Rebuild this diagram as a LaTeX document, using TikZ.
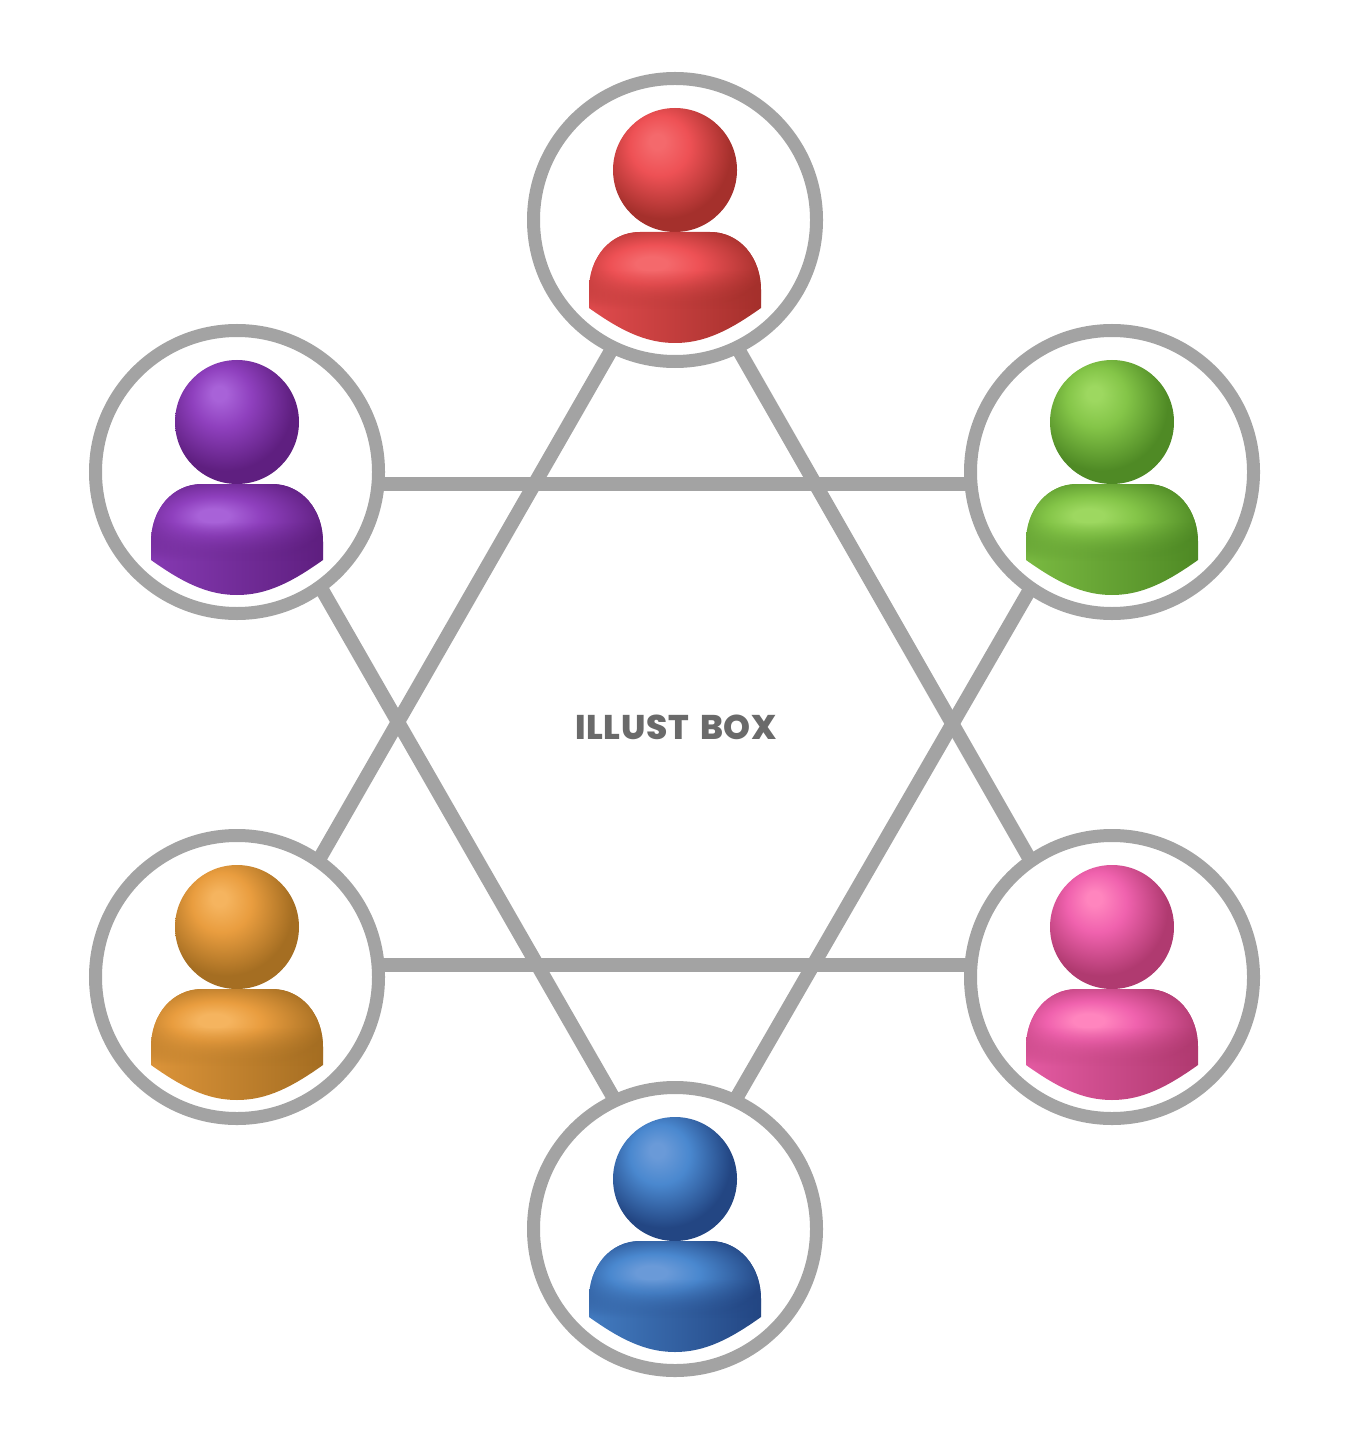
\documentclass[tikz,border=0pt]{standalone}
\usepackage{fontspec}
\usetikzlibrary{fadings}
\newfontfamily\boxfont[LetterSpace=2]{Poppins ExtraBold}

\definecolor{linkgray}{HTML}{A3A3A3}
\definecolor{labelgray}{HTML}{6A6A6A}
\definecolor{redhi}{HTML}{F4696C}
\definecolor{redbase}{HTML}{EE5155}
\definecolor{reddark}{HTML}{A5302C}
\definecolor{purplehi}{HTML}{A862D8}
\definecolor{purplebase}{HTML}{8F40BE}
\definecolor{purpledark}{HTML}{5F1F80}
\definecolor{greenhi}{HTML}{9DD860}
\definecolor{greenbase}{HTML}{84C548}
\definecolor{greendark}{HTML}{4F8A25}
\definecolor{orangehi}{HTML}{F5B45F}
\definecolor{orangebase}{HTML}{E99D3F}
\definecolor{orangedark}{HTML}{A56E22}
\definecolor{pinkhi}{HTML}{FF85BE}
\definecolor{pinkbase}{HTML}{F062AE}
\definecolor{pinkdark}{HTML}{B03A70}
\definecolor{bluehi}{HTML}{6A9AD8}
\definecolor{bluebase}{HTML}{4A88CF}
\definecolor{bluedark}{HTML}{234683}

\colorlet{personhi}{redhi}
\colorlet{personbase}{redbase}
\colorlet{persondark}{reddark}

\pgfdeclareradialshading[personhi,personbase,persondark]{headball}{\pgfpoint{-7.5bp}{12bp}}{
  color(0bp)=(personhi); color(3bp)=(personhi); color(12bp)=(personbase);
  color(27bp)=(persondark); color(70bp)=(persondark)}
\pgfdeclareradialshading[personhi,personbase,persondark]{bodyball}{\pgfpoint{-7.3bp}{4.6bp}}{
  color(0bp)=(personhi); color(4.5bp)=(personhi); color(13bp)=(personbase);
  color(30bp)=(persondark); color(70bp)=(persondark)}
\tikzfading[name=bodyfade, top color=transparent!0, bottom color=transparent!100, middle color=transparent!0]

\def\personbody{(-35,12) -- (35,12) .. controls (65,12) and (86,38) .. (86,70) -- (86,88)
  .. controls (55,110) and (30,123) .. (0,123) .. controls (-30,123) and (-55,110) .. (-86,88)
  -- (-86,70) .. controls (-86,38) and (-65,12) .. (-35,12) -- cycle}

\tikzset{
  person/.pic={
    \shade[shading=headball] (0,-50) circle (62);
    \shade[left color=personbase!80!persondark, right color=persondark] \personbody;
    \begin{scope}
      \clip \personbody;
      \shade[shading=bodyball, path fading=bodyfade] (-86,12) rectangle (86,88);
    \end{scope}
  }
}

\begin{document}
\begin{tikzpicture}[x=.2mm,y=-.2mm]
\tikzstyle{ring} = [circle, draw=linkgray, line width=2.6mm, minimum size=56.6mm, inner sep=0pt, outer sep=0pt]
\tikzstyle{link} = [draw=linkgray, line width=2.8mm]
\useasboundingbox (0,0) rectangle (1350,1450);
\foreach \col/\px/\py in {red/675/220, purple/237/472, green/1112/472, orange/237/977, pink/1112/977, blue/675/1229}
{
  \colorlet{personhi}{\col hi}
  \colorlet{personbase}{\col base}
  \colorlet{persondark}{\col dark}
  \node [ring] (\col) at (\px,\py) {};
  \pic at (\px,\py) {person};
}
\node [text=labelgray, font=\boxfont\fontsize{19.5}{21}\selectfont] (boxlabel) at (676,727) {ILLUST\hspace{.12em} BOX};
% star
\path[link] (purple.-5) -- (green.185);
\path[link] (orange.5) -- (pink.175);
\path[link] (red.244) -- (orange.55);
\path[link] (red.296) -- (pink.125);
\path[link] (purple.306) -- (blue.115);
\path[link] (green.235) -- (blue.65);
\end{tikzpicture}
\end{document}
